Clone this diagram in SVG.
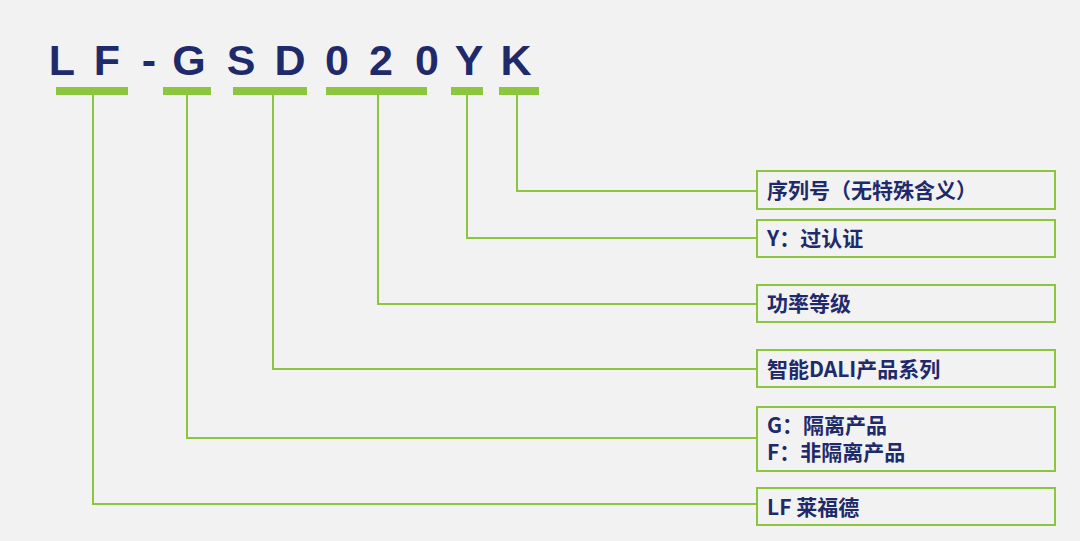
<svg xmlns="http://www.w3.org/2000/svg" width="1080" height="541" viewBox="0 0 1080 541">
<style>
.code{font-family:"Liberation Sans","Noto Sans CJK SC",sans-serif;font-weight:bold;font-size:43px;fill:#1f2a6b;text-anchor:middle}
.bar{fill:#8cc63f}
.box{fill:none;stroke:#8cc63f;stroke-width:2}
.lbl{font-family:"Noto Sans CJK SC","Liberation Sans",sans-serif;font-weight:bold;font-size:21px;fill:#1f2a6b}
.conn{fill:none;stroke:#8cc63f;stroke-width:2}
</style>
<rect width="1080" height="541" fill="#f2f2f2"/>
<g id="code">
<text class="code" x="62" y="75">L</text>
<text class="code" x="107" y="75">F</text>
<text class="code" x="149" y="75">-</text>
<text class="code" x="189" y="75">G</text>
<text class="code" x="241" y="75">S</text>
<text class="code" x="290" y="75">D</text>
<text class="code" x="337" y="75">0</text>
<text class="code" x="381" y="75">2</text>
<text class="code" x="427" y="75">0</text>
<text class="code" x="469" y="75">Y</text>
<text class="code" x="516" y="75">K</text>
</g>
<g id="bars">
<rect class="bar" x="56" y="87" width="72" height="8"/>
<rect class="bar" x="163" y="87" width="48" height="8"/>
<rect class="bar" x="233" y="87" width="74" height="8"/>
<rect class="bar" x="326" y="87" width="101" height="8"/>
<rect class="bar" x="451" y="87" width="32" height="8"/>
<rect class="bar" x="499" y="87" width="40" height="8"/>
</g>
<g id="connectors">
<polyline class="conn" points="517,95 517,191 757,191"/>
<polyline class="conn" points="467,95 467,238 757,238"/>
<polyline class="conn" points="378,95 378,304 757,304"/>
<polyline class="conn" points="273,95 273,369 757,369"/>
<polyline class="conn" points="187,95 187,438 757,438"/>
<polyline class="conn" points="93,95 93,504 757,504"/>
</g>
<g id="n1"><rect class="box" x="757" y="171" width="298" height="38"/><text class="lbl" x="767" y="198">序列号（无特殊含义）</text></g>
<g id="n2"><rect class="box" x="757" y="220" width="298" height="37"/><text class="lbl" x="767" y="246">Y：过认证</text></g>
<g id="n3"><rect class="box" x="757" y="285" width="298" height="37"/><text class="lbl" x="767" y="311">功率等级</text></g>
<g id="n4"><rect class="box" x="757" y="350" width="298" height="37"/><text class="lbl" x="767" y="377">智能DALI产品系列</text></g>
<g id="n5"><rect class="box" x="757" y="407" width="298" height="64"/><text class="lbl" x="767" y="433">G：隔离产品</text><text class="lbl" x="767" y="460">F：非隔离产品</text></g>
<g id="n6"><rect class="box" x="757" y="488" width="298" height="37"/><text class="lbl" x="767" y="515">LF 莱福德</text></g>
</svg>
